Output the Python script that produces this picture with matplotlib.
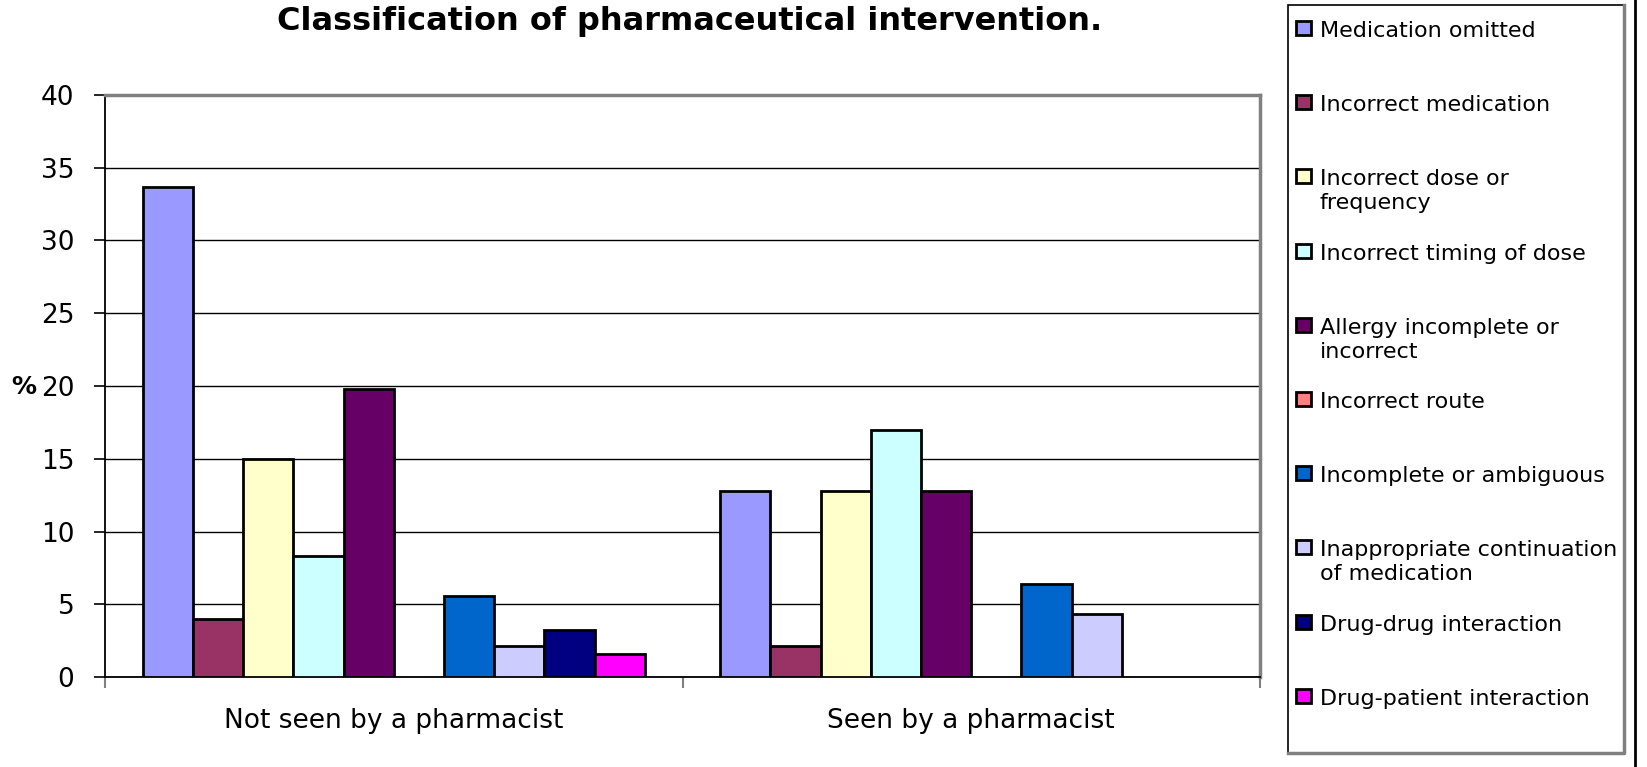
import matplotlib
matplotlib.use('Agg')
import matplotlib.pyplot as plt
from matplotlib.patches import Rectangle
from matplotlib.lines import Line2D
import numpy as np

groups = ['Not seen by a pharmacist', 'Seen by a pharmacist']
categorias = ['Medication omitted', 'Incorrect medication', 'Incorrect dose or\nfrequency',
              'Incorrect timing of dose', 'Allergy incomplete or\nincorrect', 'Incorrect route',
              'Incomplete or ambiguous', 'Inappropriate continuation\nof medication',
              'Drug-drug interaction', 'Drug-patient interaction']
not_seen = [33.7, 4.0, 15.0, 8.3, 19.8, 0, 5.6, 2.1, 3.2, 1.6]
seen = [12.8, 2.1, 12.8, 17.0, 12.8, 0, 6.4, 4.3, 0, 0]
cores = ['#9999FF', '#993366', '#FFFFCC', '#CCFFFF', '#660066',
         '#FF8080', '#0066CC', '#CCCCFF', '#000080', '#FF00FF']

W, H = 1647, 767

def px(x, y):
    return x / W, 1 - y / H

fig = plt.figure(figsize=(W / 100, H / 100), dpi=100)
ax = fig.add_axes([105 / W, (H - 677) / H, 1155 / W, 582 / H])

w = 1 / 11.5
xcat = np.arange(len(groups))
for i in range(len(categorias)):
    vals = [not_seen[i], seen[i]]
    lw = [2 if v > 0 else 0 for v in vals]
    ax.bar(xcat + (i - 4.5) * w, vals, width=w, color=cores[i],
           edgecolor='black', linewidth=lw, zorder=3)

ax.set_xlim(-0.5, 1.5)
ax.set_ylim(0, 40)
ax.set_yticks(range(0, 41, 5))
ax.yaxis.grid(True, color='black', linewidth=1)
ax.set_axisbelow(True)
ax.set_xticks(xcat)
ax.set_xticklabels(groups, fontsize=19)
ax.set_xticks([-0.5, 0.5, 1.5], minor=True)
ax.tick_params(axis='x', which='major', length=0, pad=22)
ax.tick_params(axis='x', which='minor', length=8, width=1.5, color='#808080', direction='out')
ax.tick_params(axis='y', labelsize=19, length=8, width=1.2, pad=14)

for s in ['left', 'bottom']:
    ax.spines[s].set_color('black')
    ax.spines[s].set_linewidth(1.3)
for s in ['top', 'right']:
    ax.spines[s].set_color('#808080')
    ax.spines[s].set_linewidth(2.5)

fig.text(*px(690, 30), 'Classification of pharmaceutical intervention.',
         fontsize=23, fontweight='bold', ha='center', va='baseline')
fig.text(*px(24, 387), '%', fontsize=18, fontweight='bold', ha='center', va='center')

# legenda
x0, y0 = px(1288, 753)
x1, y1 = px(1624, 5)
fig.add_artist(Rectangle((x0, y0), x1 - x0, y1 - y0, transform=fig.transFigure,
                         facecolor='white', edgecolor='black', linewidth=1.2))
fig.add_artist(Line2D([x1, x1, x0], [y1, y0, y0], transform=fig.transFigure,
                      color='#808080', linewidth=2.5))
for i in range(len(categorias)):
    base = 36 + 74.2 * i
    mx, my = px(1296, base - 1)
    fig.add_artist(Rectangle((mx, my), 15 / W, 14 / H, transform=fig.transFigure,
                             facecolor=cores[i], edgecolor='black', linewidth=2))
    fig.text(*px(1320, base - 15), categorias[i], fontsize=16, ha='left', va='top',
             linespacing=1.25)

fig.add_artist(Line2D([1635 / W, 1635 / W], [0, 1], transform=fig.transFigure,
                      color='black', linewidth=2))

plt.savefig('out.png', dpi=100)
